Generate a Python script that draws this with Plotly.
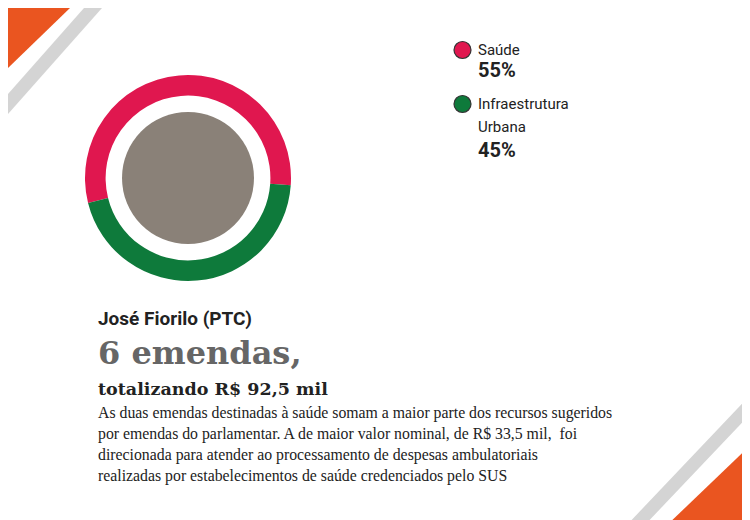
import plotly.graph_objects as go

labels = ["Saúde", "Infraestrutura Urbana"]
values = [55, 45]
colors = ["#e0174f", "#0e7a3b"]
pct_labels = ["55%", "45%"]

W, H = 750, 520
OFF = 8
def px(x): return (x - OFF) / W
def py(y): return 1 - (y - OFF) / H

fig = go.Figure()
cx, cy, R = 188, 178, 103
fig.add_trace(go.Pie(labels=labels, values=values, hole=0.8, sort=False, direction="clockwise",
                     rotation=-104, marker=dict(colors=colors, line=dict(width=0)),
                     textinfo="none", hoverinfo="label+percent", showlegend=False,
                     domain=dict(x=[px(cx - R), px(cx + R)], y=[py(cy + R), py(cy - R)])))

def path(pts):
    return "M " + " L ".join(f"{px(x)},{py(y)}" for x, y in pts) + " Z"

shapes = [
    dict(type="path", path=path([(8, 8), (70, 8), (8, 68)]), fillcolor="#ea5520", line_width=0),
    dict(type="path", path=path([(84, 8), (102, 8), (8, 114), (8, 94)]), fillcolor="#d4d4d4", line_width=0),
    dict(type="path", path=path([(758, 438), (758, 528), (664, 528)]), fillcolor="#ea5520", line_width=0),
    dict(type="path", path=path([(758, 387), (758, 406), (642, 528), (624, 528)]), fillcolor="#d4d4d4", line_width=0),
    dict(type="circle", x0=px(cx - 66), x1=px(cx + 66), y0=py(cy + 66), y1=py(cy - 66),
         fillcolor="#8a8178", line_width=0),
]
for i, yy in enumerate([50, 104]):
    shapes.append(dict(type="circle", x0=px(454), x1=px(471), y0=py(yy + 8.5), y1=py(yy - 8.5),
                       fillcolor=colors[i], line=dict(color="#333", width=1.2)))
fig.update_layout(shapes=shapes)

def ann(x, y, text, size, color="#222", family="Roboto", bold=False):
    fig.add_annotation(x=px(x), y=py(y), xref="paper", yref="paper", xanchor="left", yanchor="middle",
                       text=f"<b>{text}</b>" if bold else text, showarrow=False,
                       font=dict(size=size, color=color, family=family))

ann(476, 50, labels[0], 15)
ann(476, 70, pct_labels[0], 20, bold=True)
ann(476, 104, "Infraestrutura", 15)
ann(476, 127, "Urbana", 15)
ann(476, 150, pct_labels[1], 20, bold=True)

ann(96, 318, "José Fiorilo (PTC)", 19, bold=True)
ann(96, 353, "6 emendas,", 32, color="#666", family="DejaVu Serif", bold=True)
ann(96, 389, "totalizando R$ 92,5 mil", 17.5, family="DejaVu Serif", bold=True)
para = ["As duas emendas destinadas à saúde somam a maior parte dos recursos sugeridos",
        "por emendas do parlamentar. A de maior valor nominal, de R$ 33,5 mil,  foi",
        "direcionada para atender ao processamento de despesas ambulatoriais",
        "realizadas por estabelecimentos de saúde credenciados pelo SUS"]
for i, line in enumerate(para):
    ann(96, 413 + 21 * i, line, 15.8, family="Liberation Serif")

fig.update_layout(width=W, height=H, margin=dict(l=0, r=0, t=0, b=0),
                  paper_bgcolor="white", plot_bgcolor="white")
fig.write_html("out.html")
